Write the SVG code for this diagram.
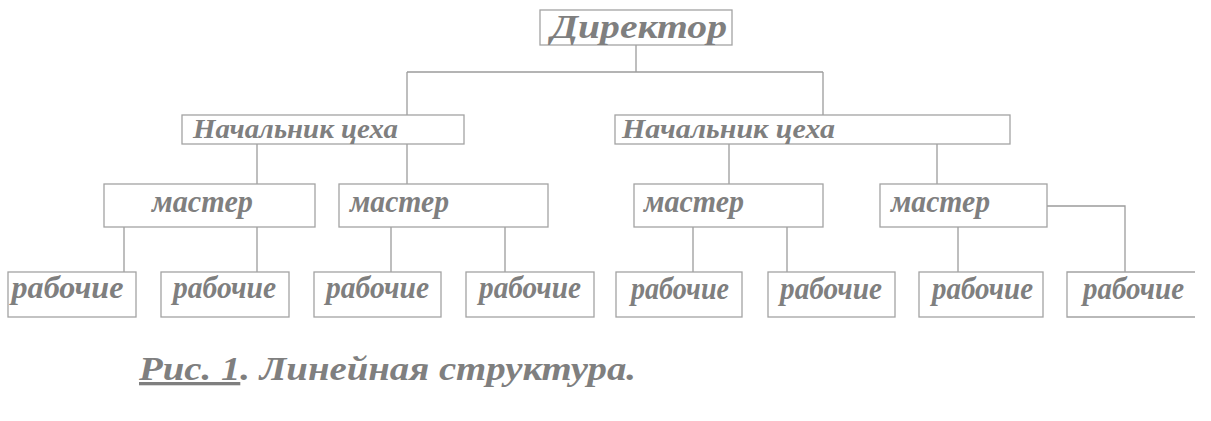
<svg xmlns="http://www.w3.org/2000/svg" width="1211" height="421" viewBox="0 0 1211 421">
<style>
.box{fill:#fff;stroke:#a3a3a3;stroke-width:1.3}
.t{font-family:"Liberation Serif","Times New Roman",serif;font-weight:bold;font-style:italic;fill:#7f7f7f}
.c{fill:none;stroke:#9c9c9c;stroke-width:1.3}
</style>
<rect width="1211" height="421" fill="#fff"/>
<g id="connectors">
<path class="c" d="M636,45V72M407,72H823M407,72V115M823,72V115"/>
<path class="c" d="M257,144V184M407,144V184M729,144V184M937,144V184"/>
<path class="c" d="M124,224V281M257,224V281M391,224V281M505,224V281"/>
<path class="c" d="M693,224V281M787,224V281M958,224V281M1047,206H1125V282"/>
</g>
<g id="director"><rect class="box" x="540" y="10" width="192" height="35"/><text class="t" x="551" y="38" font-size="34" textLength="176" lengthAdjust="spacingAndGlyphs">Директор</text></g>
<g id="nach1"><rect class="box" x="182" y="115" width="282" height="29"/><text class="t" x="193" y="138" font-size="27" textLength="205" lengthAdjust="spacingAndGlyphs">Начальник цеха</text></g>
<g id="nach2"><rect class="box" x="615" y="115" width="395" height="29"/><text class="t" x="622" y="138" font-size="27" textLength="213" lengthAdjust="spacingAndGlyphs">Начальник цеха</text></g>
<g id="master1"><rect class="box" x="104" y="184" width="211" height="43"/><text class="t" x="152" y="212" font-size="32" textLength="101" lengthAdjust="spacingAndGlyphs">мастер</text></g>
<g id="master2"><rect class="box" x="339" y="184" width="209" height="43"/><text class="t" x="350" y="212" font-size="32" textLength="99" lengthAdjust="spacingAndGlyphs">мастер</text></g>
<g id="master3"><rect class="box" x="634" y="184" width="189" height="43"/><text class="t" x="644" y="212" font-size="32" textLength="100" lengthAdjust="spacingAndGlyphs">мастер</text></g>
<g id="master4"><rect class="box" x="880" y="184" width="167" height="43"/><text class="t" x="891" y="212" font-size="32" textLength="99" lengthAdjust="spacingAndGlyphs">мастер</text></g>
<g id="worker1"><rect class="box" x="8" y="272" width="128" height="45"/><text class="t" x="11.5" y="298" font-size="32" textLength="112" lengthAdjust="spacingAndGlyphs">рабочие</text></g>
<g id="worker2"><rect class="box" x="161" y="272" width="128" height="45"/><text class="t" x="173" y="298" font-size="32" textLength="103" lengthAdjust="spacingAndGlyphs">рабочие</text></g>
<g id="worker3"><rect class="box" x="314" y="272" width="127" height="45"/><text class="t" x="326" y="298" font-size="32" textLength="103" lengthAdjust="spacingAndGlyphs">рабочие</text></g>
<g id="worker4"><rect class="box" x="466" y="272" width="128" height="45"/><text class="t" x="479" y="298" font-size="32" textLength="102" lengthAdjust="spacingAndGlyphs">рабочие</text></g>
<g id="worker5"><rect class="box" x="616" y="272" width="126" height="45"/><text class="t" x="631" y="299" font-size="32" textLength="98" lengthAdjust="spacingAndGlyphs">рабочие</text></g>
<g id="worker6"><rect class="box" x="768" y="272" width="127" height="45"/><text class="t" x="780" y="299" font-size="32" textLength="102" lengthAdjust="spacingAndGlyphs">рабочие</text></g>
<g id="worker7"><rect class="box" x="919" y="272" width="124" height="45"/><text class="t" x="932" y="299" font-size="32" textLength="101" lengthAdjust="spacingAndGlyphs">рабочие</text></g>
<g id="worker8"><path class="box" fill="none" d="M1195,272H1067V317H1195"/><text class="t" x="1083" y="299" font-size="32" textLength="101" lengthAdjust="spacingAndGlyphs">рабочие</text></g>
<g id="caption"><text class="t" x="139" y="380" font-size="33" textLength="497" lengthAdjust="spacingAndGlyphs"><tspan text-decoration="underline">Рис. 1</tspan>. Линейная структура.</text></g>
</svg>
